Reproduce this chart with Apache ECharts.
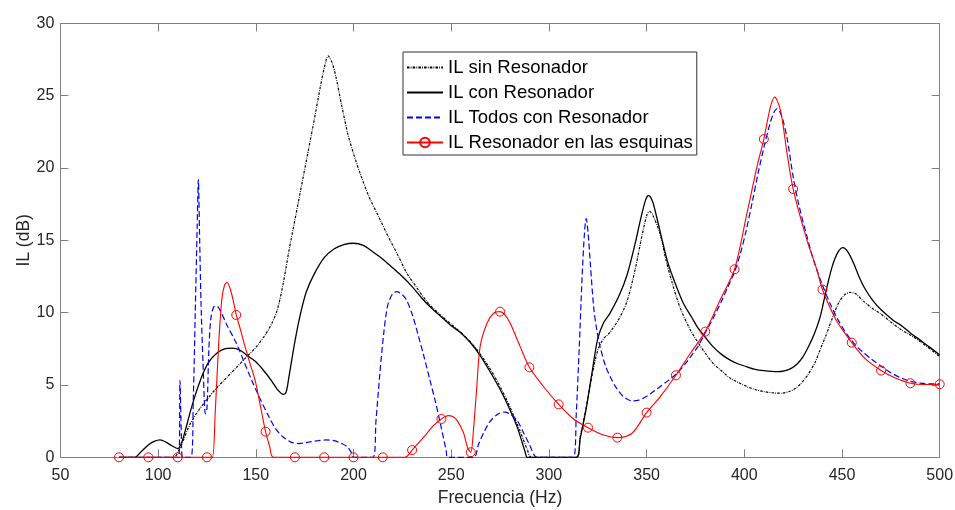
<!DOCTYPE html>
<html>
<head>
<meta charset="utf-8">
<title>IL vs Frecuencia</title>
<script src="https://cdn.jsdelivr.net/npm/echarts@6/dist/echarts.min.js"></script>
<style>
  html, body { margin: 0; padding: 0; background: #ffffff; }
  #chart { width: 955px; height: 510px; }
</style>
</head>
<body>
<div id="chart"></div>
<script>
// Axis ticks
const xTicks = [50, 100, 150, 200, 250, 300, 350, 400, 450, 500];
const yTicks = [0, 5, 10, 15, 20, 25, 30];

// IL sin Resonador
const sinFreq = [80, 108, 110, 113, 116, 120, 125, 130, 135, 140, 145, 150, 155, 158, 161, 164, 167, 170, 174, 177,
  180, 183, 185, 187, 189, 191, 194, 197, 200, 204, 208, 213, 218, 223, 227, 232, 238, 244, 250, 256,
  261, 265, 270, 275, 280, 285, 289, 291, 314, 316, 319, 322, 325, 328, 331, 336, 340, 344, 347, 350,
  351.5, 353, 357, 360, 363, 367, 372, 376, 380, 384, 389, 393, 398, 402, 406, 410, 415, 419, 423, 426,
  429, 432, 436, 439, 442, 445, 448, 451, 454, 457, 461, 465, 470, 475, 480, 485, 490, 495, 500];
const sinIL = [0, 0, 0.3, 1.2, 2.2, 3.1, 4.0, 4.8, 5.5, 6.2, 6.9, 7.6, 8.5, 9.2, 10.2, 12.0, 14.3, 16.4, 19.2, 21.3,
  23.4, 25.6, 26.9, 27.75, 27.3, 26.3, 24.3, 22.4, 21.0, 19.4, 18.0, 16.6, 15.2, 13.9, 12.8, 11.8, 10.7, 9.9, 9.2, 8.5,
  7.8, 7.1, 6.1, 4.9, 3.5, 1.9, 0.5, 0, 0, 1.4, 3.4, 5.6, 7.4, 8.2, 8.6, 9.6, 10.8, 12.9, 14.9, 16.7,
  17.0, 16.8, 15.4, 13.6, 12.1, 10.4, 8.9, 8.0, 7.2, 6.5, 5.9, 5.45, 5.1, 4.85, 4.67, 4.54, 4.45, 4.43, 4.55, 4.75,
  5.1, 5.6, 6.5, 7.5, 8.5, 9.6, 10.6, 11.2, 11.4, 11.3, 10.8, 10.35, 9.9, 9.35, 8.85, 8.45, 8.0, 7.5, 6.96];

// IL con Resonador
const conFreq = [80, 88, 91, 95, 98, 101, 104, 107, 110, 112, 114, 117, 120, 123, 126, 130, 134, 138, 142, 146,
  150, 154, 158, 161, 164, 165.5, 167, 170, 173, 176, 180, 185, 190, 195, 200, 205, 210, 215, 220, 225,
  230, 235, 240, 245, 250, 255, 260, 265, 270, 275, 280, 284, 288, 289, 314, 316, 319, 322, 325, 328,
  331, 336, 340, 344, 347, 349.5, 351, 353, 355, 358, 361, 365, 369, 373, 376, 380, 384, 388, 393, 397,
  401, 405, 410, 417, 421, 424, 427, 430, 433, 436, 439, 442, 445, 448, 450.5, 453, 456, 459, 462, 466,
  470, 476, 481, 485, 490, 495, 500];
const conIL = [0, 0, 0.35, 0.85, 1.1, 1.2, 1.05, 0.8, 0.6, 1.0, 1.9, 3.4, 4.7, 5.8, 6.6, 7.2, 7.5, 7.55, 7.4, 7.0,
  6.6, 6.0, 5.3, 4.7, 4.35, 4.5, 5.6, 8.0, 10.0, 11.5, 12.7, 13.8, 14.4, 14.7, 14.8, 14.65, 14.2, 13.7, 13.1, 12.5,
  11.8, 11.0, 10.3, 9.7, 9.1, 8.6, 7.9, 7.0, 5.9, 4.7, 3.3, 2.0, 0.3, 0, 0, 1.3, 3.3, 5.8, 8.2, 9.3,
  9.9, 11.2, 12.6, 14.7, 16.5, 17.8, 18.1, 17.7, 16.7, 15.0, 13.4, 11.9, 10.6, 9.7, 9.0, 8.3, 7.65, 7.15, 6.7, 6.45,
  6.27, 6.1, 5.99, 5.92, 6.0, 6.15, 6.45, 6.95, 7.7, 8.6, 9.8, 11.6, 13.2, 14.2, 14.5, 14.2, 13.4, 12.4, 11.6, 10.8,
  10.2, 9.5, 9.05, 8.6, 8.1, 7.6, 7.07];

// IL Todos con Resonador
const todosFreq = [80, 110.6, 111.2, 111.9, 112.5, 116.8, 118, 119, 120, 120.6, 121.2, 122, 123, 124.2, 125, 126, 127, 128.5, 130, 132,
  135, 140, 144, 148, 152, 156, 160, 164, 168, 172, 177, 182, 186, 190, 194, 197, 199, 200, 210, 211.5,
  213.5, 215.5, 217.5, 220, 222, 224.5, 227, 230, 233, 236, 239, 242, 245, 247.5, 248, 261.5, 264, 267, 270, 274,
  277.5, 281, 284, 287, 290, 294, 312.5, 314, 315.5, 317, 318.2, 319.1, 320, 321.2, 322.9, 324.5, 326.3, 329, 331.4, 334,
  336.5, 339, 342.5, 346, 348.5, 352, 357, 361, 365.5, 370, 372.5, 376, 380, 384, 388, 392, 395, 398, 401, 404,
  407, 410, 413, 415, 416.8, 418.5, 420, 422, 425, 428, 432, 436, 440, 444, 448, 452, 456, 460, 465, 470,
  475, 480, 485, 490, 495, 500];
const todosIL = [0, 0, 5.3, 1.5, 0, 0, 4, 10, 16, 19.2, 15.5, 10.5, 6.5, 3.0, 3.4, 7.5, 9.6, 10.4, 10.45, 10.1,
  9.2, 7.9, 6.6, 5.3, 4.1, 3.0, 2.0, 1.4, 1.05, 0.95, 1.05, 1.15, 1.2, 1.15, 0.95, 0.7, 0.3, 0, 0, 2.5,
  5.8, 8.6, 10.5, 11.3, 11.45, 11.3, 10.9, 9.9, 8.5, 7.0, 5.4, 3.8, 2.0, 0.4, 0, 0, 0.9, 1.8, 2.5, 3.0,
  3.13, 2.9, 2.5, 1.7, 0.9, 0, 0, 3.0, 7.5, 12.5, 15.5, 16.5, 15.6, 13.4, 10.4, 8.8, 7.6, 6.3, 5.57, 4.9,
  4.43, 4.1, 3.9, 3.95, 4.1, 4.4, 4.9, 5.3, 5.8, 6.5, 6.95, 7.6, 8.6, 9.6, 10.7, 11.9, 12.8, 14.1, 15.7, 17.6,
  19.6, 21.4, 23.0, 23.8, 24.1, 23.8, 23.2, 22.0, 19.4, 17.4, 15.3, 13.4, 11.9, 10.6, 9.5, 8.6, 7.9, 7.35, 6.8, 6.3,
  5.85, 5.5, 5.25, 5.13, 5.08, 5.07];

// IL Resonador en las esquinas (markers every 15 Hz from 80 Hz)
const esqFreq = [80, 95, 110, 125, 127.7, 129.2, 130.9, 132.6, 134, 135.3, 137, 138.5, 140, 142, 144.5, 147, 149.6, 152, 155, 157,
  159, 170, 185, 200, 215, 226.4, 230, 234, 237.6, 241, 245, 248.5, 251, 253, 256.3, 258.3, 260, 261.4, 263.1, 264.8,
  268.3, 271.7, 275, 277.5, 280.2, 285.3, 290, 297.3, 305, 312.6, 320, 328, 335, 342.5, 350, 357, 365, 372.4, 380, 387.7,
  395, 401.4, 406.5, 410, 413.3, 415.5, 418.5, 421.9, 425, 432.1, 437.2, 440, 447, 455, 462, 470, 477, 485, 492, 500];
const esqIL = [0, 0, 0, 0, 0, 3.0, 7.6, 10.9, 11.9, 12.1, 11.6, 10.8, 9.84, 8.9, 7.65, 6.5, 5.35, 3.8, 1.77, 0.8,
  0, 0, 0, 0, 0, 0, 0.5, 1.1, 1.66, 2.2, 2.65, 2.88, 2.8, 2.55, 1.7, 0.7, 0.35, 1.89, 4.88, 7.65,
  9.27, 9.96, 10.07, 9.85, 9.27, 7.65, 6.22, 4.88, 3.66, 2.65, 2.05, 1.54, 1.36, 1.66, 3.09, 4.2, 5.67, 7.19, 8.69, 10.9,
  13.0, 16.9, 20.1, 22.0, 24.2, 24.9, 24.0, 21.0, 18.55, 15.0, 12.95, 11.6, 9.5, 7.93, 6.8, 6.0, 5.5, 5.12, 5.03, 5.05];
const esqMarkStart = 80, esqMarkStep = 15;

const seriesNames = ['IL sin Resonador', 'IL con Resonador', 'IL Todos con Resonador', 'IL Resonador en las esquinas'];

const pairs = (xs, ys) => xs.map((x, i) => [x, ys[i]]);
const esqData = esqFreq.map((x, i) => {
  const isMark = (x - esqMarkStart) % esqMarkStep === 0;
  return isMark ? { value: [x, esqIL[i]] } : { value: [x, esqIL[i]], symbol: 'none' };
});

const FONT = '"Liberation Sans", Arial, Helvetica, sans-serif';
const AX = '#808080';
const TXT = '#262626';
const xMin = xTicks[0], xMax = xTicks[xTicks.length - 1], xStep = xTicks[1] - xTicks[0];
const yMin = yTicks[0], yMax = yTicks[yTicks.length - 1], yStep = yTicks[1] - yTicks[0];

const boxAxis = (extra) => Object.assign({
  type: 'value',
  axisLine: { show: true, onZero: false, lineStyle: { color: AX, width: 1 } },
  axisTick: { show: true, inside: true, length: 8, lineStyle: { color: AX } },
  splitLine: { show: false }
}, extra);

// Line-only legend entries hide the symbol; the last keeps its open circle
const legendData = seriesNames.map((n, i) =>
  i < 3 ? { name: n, itemStyle: { opacity: 0, borderWidth: 0 } } : { name: n });

const chart = echarts.init(document.getElementById('chart'), null, { renderer: 'canvas' });
chart.setOption({
  animation: false,
  backgroundColor: '#ffffff',
  textStyle: { fontFamily: FONT },
  grid: { left: 60.4, right: 15.3, top: 23.4, bottom: 52.7, containLabel: false, outerBoundsMode: 'none' },
  xAxis: [
    boxAxis({
      position: 'bottom', min: xMin, max: xMax, interval: xStep,
      name: 'Frecuencia (Hz)', nameLocation: 'middle', nameGap: 32, nameMoveOverlap: false,
      nameTextStyle: { fontSize: 17.5, color: TXT, fontFamily: FONT },
      axisLabel: { show: true, margin: 10, fontSize: 16, color: TXT, fontFamily: FONT }
    }),
    boxAxis({ position: 'top', min: xMin, max: xMax, interval: xStep, axisLabel: { show: false } })
  ],
  yAxis: [
    boxAxis({
      position: 'left', min: yMin, max: yMax, interval: yStep,
      name: 'IL (dB)', nameLocation: 'middle', nameGap: 27, nameRotate: 90, nameMoveOverlap: false,
      nameTextStyle: { fontSize: 17.5, color: TXT, fontFamily: FONT },
      axisLabel: { show: true, margin: 6, fontSize: 16, color: TXT, fontFamily: FONT }
    }),
    boxAxis({ position: 'right', min: yMin, max: yMax, interval: yStep, axisLabel: { show: false } })
  ],
  legend: {
    orient: 'vertical',
    left: 403, top: 52,
    padding: [6, 4, 3, 3],
    itemWidth: 36, itemHeight: 12, itemGap: 6,
    backgroundColor: '#ffffff',
    borderColor: '#333333', borderWidth: 1,
    textStyle: { fontSize: 18.5, lineHeight: 18, color: '#000000', fontFamily: FONT },
    data: legendData
  },
  series: [
    {
      name: seriesNames[0], type: 'line', data: pairs(sinFreq, sinIL),
      symbol: 'none', smooth: 0.3, clip: true, z: 3,
      color: '#000000',
      lineStyle: { color: '#000000', width: 1.2, type: [2.5, 1.2, 0.8, 1.2] }
    },
    {
      name: seriesNames[1], type: 'line', data: pairs(conFreq, conIL),
      symbol: 'none', smooth: 0.3, clip: true, z: 3,
      color: '#000000',
      lineStyle: { color: '#000000', width: 1.3, type: 'solid' }
    },
    {
      name: seriesNames[2], type: 'line', data: pairs(todosFreq, todosIL),
      symbol: 'none', smooth: 0.3, clip: true, z: 4,
      color: '#0000ff',
      lineStyle: { color: '#0000ff', width: 1.2, type: [6, 3] }
    },
    {
      name: seriesNames[3], type: 'line', data: esqData,
      symbol: 'circle', symbolSize: 9, showSymbol: true, showAllSymbol: true,
      smooth: 0.3, clip: false, z: 5,
      color: '#ff0000',
      itemStyle: { color: 'rgba(255,255,255,0)', borderColor: '#ff0000', borderWidth: 1 },
      lineStyle: { color: '#ff0000', width: 1.1 }
    }
  ]
});
</script>
</body>
</html>
